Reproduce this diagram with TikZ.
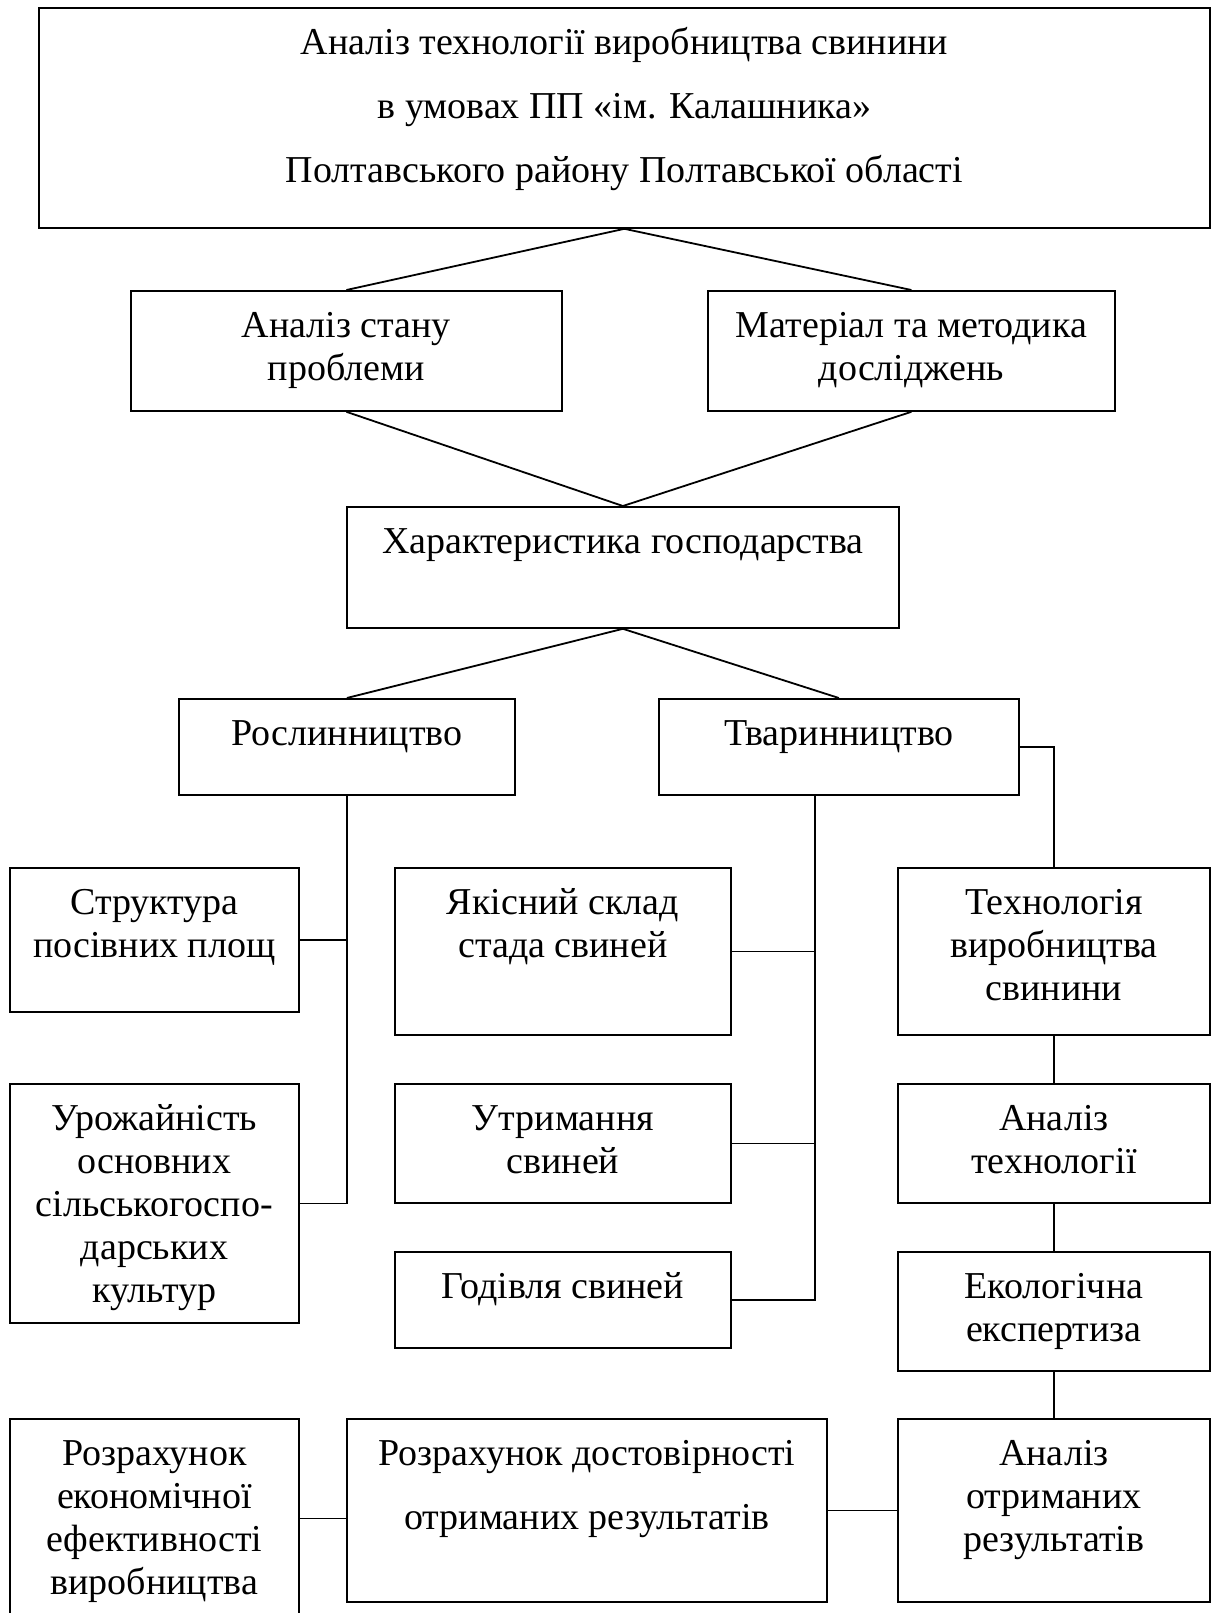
\documentclass[tikz,border=0pt]{standalone}
\usepackage{fontspec}
\setmainfont{Liberation Serif}
\newcommand{\bxtext}[3]{\parbox[c][#2][t]{#1}{\centering\rule{0pt}{23.5pt}#3\par}}
\tikzset{
  box/.style={draw, line width=0.9pt, inner sep=0pt, anchor=north west, fill=white},
  link/.style={line width=0.6pt},
  diag/.style={line width=0.9pt},
  every node/.style={font=\fontsize{19pt}{21.5pt}\selectfont}
}
\begin{document}
\begin{tikzpicture}[x=0.5pt,y=-0.5pt]
\useasboundingbox[fill=white] (0,0) rectangle (1211,1613);
\clip (0,0) rectangle (1211,1613);
% boxes
\node[box] (top) at (38,7) {\bxtext{585.5pt}{110pt}{Аналіз технології виробництва свинини\\[10.5pt] в умовах ПП «ім. Калашника»\\[10.5pt] Полтавського району Полтавської області}};
\node[box] (a1) at (130,290) {\bxtext{215.5pt}{60pt}{Аналіз стану\\ проблеми}};
\node[box] (a2) at (707,290) {\bxtext{203.5pt}{60pt}{Матеріал та методика\\ досліджень}};
\node[box] (char) at (346,506) {\bxtext{276pt}{60.5pt}{Характеристика господарства}};
\node[box] (ros) at (178,698) {\bxtext{168pt}{48pt}{Рослинництво}};
\node[box] (tvar) at (658,698) {\bxtext{180pt}{48pt}{Тваринництво}};
\node[box] (str) at (9,867) {\bxtext{144.5pt}{72pt}{Структура\\ посівних площ}};
\node[box] (yak) at (394,867) {\bxtext{168pt}{83.5pt}{Якісний склад\\ стада свиней}};
\node[box] (tech) at (897,867) {\bxtext{156pt}{83.5pt}{Технологія\\ виробництва\\ свинини}};
\node[box] (uro) at (9,1083) {\bxtext{144.5pt}{119.5pt}{Урожайність\\ основних\\ сільськогоспо-\\ дарських\\ культур}};
\node[box] (utr) at (394,1083) {\bxtext{168pt}{59.5pt}{Утримання\\ свиней}};
\node[box] (atech) at (897,1083) {\bxtext{156pt}{59.5pt}{Аналіз\\ технології}};
\node[box] (god) at (394,1251) {\bxtext{168pt}{48pt}{Годівля свиней}};
\node[box] (eko) at (897,1251) {\bxtext{156pt}{59.5pt}{Екологічна\\ експертиза}};
\node[box] (econ) at (9,1418) {\bxtext{144.5pt}{122pt}{Розрахунок\\ економічної\\ ефективності\\ виробництва}};
\node[box] (dost) at (346,1418) {\bxtext{240pt}{91.5pt}{Розрахунок достовірності\\[10.5pt] отриманих результатів}};
\node[box] (arez) at (897,1418) {\bxtext{156pt}{91.5pt}{Аналіз\\ отриманих\\ результатів}};
% diagonal connectors
\draw[diag] (a1.north) -- (top.south) -- (a2.north);
\draw[diag] (a1.south) -- (char.north) -- (a2.south);
\draw[diag] (ros.north) -- (char.south) -- (tvar.north);
% plant branch
\draw[link] (ros.south) -- (ros.south |- uro.east) -- (uro.east);
\draw[link] (str.east) -- (str.east -| ros.south);
% animal branch
\coordinate (tv) at ([xshift=-12pt]tvar.south);
\draw[link] (tv) -- (tv |- god.east) -- (god.east);
\draw[link] (yak.east) -- (yak.east -| tv);
\draw[link] (utr.east) -- (utr.east -| tv);
% technology chain
\draw[link] (tvar.east) -- (tvar.east -| tech.north) -- (tech.north);
\draw[link] (tech.south) -- (atech.north);
\draw[link] (atech.south) -- (eko.north);
\draw[link] (eko.south) -- (arez.north);
\draw[link] (dost.east) -- (arez.west);
\draw[link] ([yshift=-4pt]dost.west) -- ([yshift=-4pt]dost.west -| econ.east);
\end{tikzpicture}
\end{document}
